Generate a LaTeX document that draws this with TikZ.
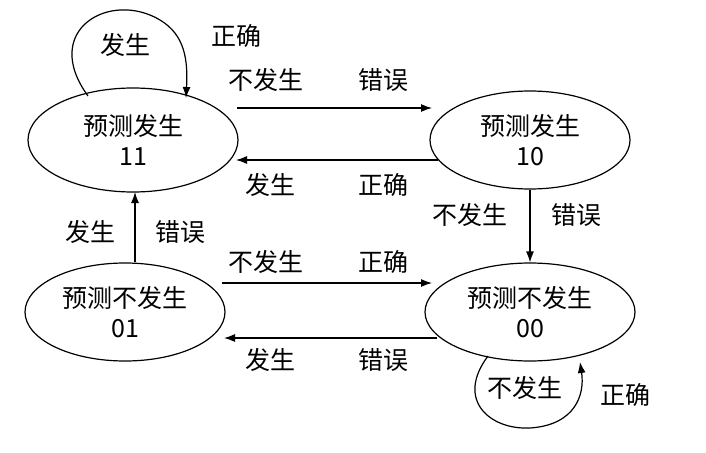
\documentclass[tikz,border=0pt]{standalone}
\usepackage{fontspec}
\newfontfamily\cjk{Noto Sans CJK SC}
\usetikzlibrary{arrows.meta,shapes.geometric}
\tikzset{
  state/.style={draw,ellipse,line width=1.2pt,minimum width=200pt,minimum height=98pt,align=center,inner sep=0pt},
  edge/.style={line width=1.2pt,-{Latex[length=11pt,width=8pt]}},
  lbl/.style={font=\cjk\fontsize{25}{27}\selectfont}
}
\begin{document}
\begin{tikzpicture}[x=1pt,y=-1pt,font=\cjk\fontsize{25}{30}\selectfont]
  \useasboundingbox (0,0) rectangle (706,452);
  % States
  \node [state,minimum width=210pt,minimum height=104pt] (s11) at (133,140) {预测发生\\11};
  \node [state] (s10) at (530,140) {预测发生\\10};
  \node [state] (s01) at (125,312) {预测不发生\\01};
  \node [state,minimum width=210pt] (s00) at (530,312) {预测不发生\\00};
  % Horizontal transitions
  \draw [edge] (237,108) -- (432,108);
  \draw [edge] (438,160) -- (236,160);
  \draw [edge] (222,283) -- (432,283);
  \draw [edge] (437,338) -- (224,338);
  % Vertical transitions
  \draw [edge] (s01.north -| 135,0) -- (135,192);
  \draw [edge] (530,190) -- (s00.north);
  % Self loops
  \coordinate (l11a) at (88,96);
  \coordinate (l11b) at (186,98);
  \draw [edge] (l11a) .. controls (40,30) and (110,-10) .. (160,20) .. controls (185,35) and (188,60) .. (l11b);
  \coordinate (l00a) at (488,356);
  \coordinate (l00b) at (580,362);
  \draw [edge] (l00a) .. controls (455,400) and (490,430) .. (530,428) .. controls (575,425) and (585,395) .. (l00b);
  % Labels
  \node [lbl] (t1) at (125,45) {发生};
  \node [lbl] (t2) at (236,36) {正确};
  \node [lbl] (t3) at (266,80) {不发生};
  \node [lbl] (t4) at (383,80) {错误};
  \node [lbl] (t5) at (270,185) {发生};
  \node [lbl] (t6) at (383,185) {正确};
  \node [lbl] (t7) at (90,232) {发生};
  \node [lbl] (t8) at (180,232) {错误};
  \node [lbl] (t9) at (470,215) {不发生};
  \node [lbl] (t10) at (576,215) {错误};
  \node [lbl] (t11) at (266,262) {不发生};
  \node [lbl] (t12) at (383,262) {正确};
  \node [lbl] (t13) at (270,360) {发生};
  \node [lbl] (t14) at (383,360) {错误};
  \node [lbl] (t15) at (525,388) {不发生};
  \node [lbl] (t16) at (625,395) {正确};
\end{tikzpicture}
\end{document}
